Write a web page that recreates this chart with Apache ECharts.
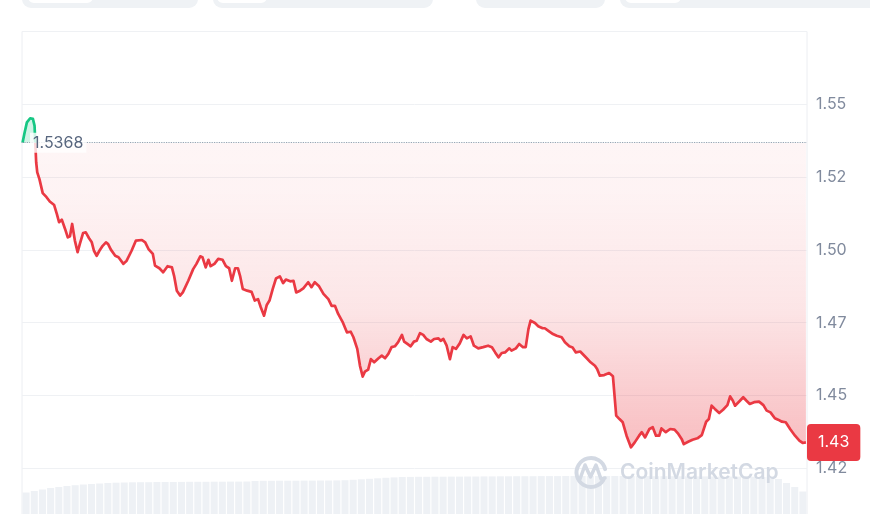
<!DOCTYPE html>
<html>
<head>
<meta charset="utf-8">
<script src="https://cdn.jsdelivr.net/npm/echarts@6/dist/echarts.min.js"></script>
<style>
  html, body { margin: 0; padding: 0; background: #ffffff; }
  #chart { width: 870px; height: 514px; }
</style>
</head>
<body>
<div id="chart"></div>
<script>
// ---- Data ----
const openPrice = 1.5368;
// minutes since start of the 24h window
const times = [1,5,9,15,20,23,26,28,32,38,45,51,59,64,68,73,79,84,88,92,97,102,106,112,117,123,128,132,137,142,148,154,158,163,171,177,186,192,201,209,220,226,232,240,244,252,259,267,275,279,284,290,295,305,314,320,327,331,337,342,346,353,360,368,374,380,385,391,396,400,405,413,421,427,433,438,444,449,454,460,466,473,479,484,492,498,503,510,516,525,531,537,545,553,562,568,574,580,588,596,603,608,615,620,625,629,635,640,646,654,660,666,672,678,684,690,697,701,707,713,719,724,730,736,742,750,756,764,768,773,779,785,790,796,803,810,816,823,829,837,846,855,862,868,874,880,886,894,898,906,912,919,924,929,933,941,947,955,959,965,974,981,990,996,1004,1010,1016,1024,1036,1043,1051,1055,1060,1068,1077,1084,1090,1096,1102,1109,1117,1124,1132,1137,1143,1151,1157,1163,1169,1173,1181,1189,1197,1204,1210,1214,1222,1230,1239,1247,1255,1260,1265,1271,1279,1286,1294,1299,1304,1308,1317,1323,1329,1335,1343,1352,1360,1366,1373,1381,1387,1394,1401,1409,1418,1426,1432,1438];
const prices = [1.5368,1.5405,1.5438,1.5452,1.5450,1.5427,1.5301,1.5266,1.5243,1.5195,1.5181,1.5166,1.5154,1.5123,1.5095,1.5104,1.5072,1.5043,1.5047,1.5089,1.5032,1.4992,1.5020,1.5058,1.5060,1.5040,1.5026,1.4997,1.4980,1.4997,1.5014,1.5026,1.5020,1.5001,1.4980,1.4975,1.4952,1.4963,1.4997,1.5032,1.5034,1.5026,1.5003,1.4986,1.4946,1.4937,1.4923,1.4944,1.4940,1.4911,1.4860,1.4843,1.4854,1.4894,1.4934,1.4952,1.4978,1.4975,1.4940,1.4966,1.4944,1.4952,1.4969,1.4966,1.4944,1.4937,1.4894,1.4937,1.4937,1.4911,1.4866,1.4860,1.4856,1.4826,1.4831,1.4803,1.4774,1.4811,1.4826,1.4866,1.4902,1.4909,1.4886,1.4898,1.4892,1.4894,1.4854,1.4860,1.4868,1.4889,1.4872,1.4889,1.4875,1.4849,1.4831,1.4808,1.4808,1.4780,1.4753,1.4717,1.4719,1.4700,1.4660,1.4602,1.4565,1.4582,1.4589,1.4625,1.4614,1.4628,1.4637,1.4628,1.4643,1.4666,1.4669,1.4683,1.4708,1.4685,1.4677,1.4669,1.4685,1.4688,1.4714,1.4708,1.4694,1.4685,1.4694,1.4696,1.4688,1.4694,1.4671,1.4625,1.4666,1.4660,1.4679,1.4708,1.4696,1.4703,1.4671,1.4662,1.4666,1.4671,1.4666,1.4648,1.4631,1.4646,1.4648,1.4662,1.4654,1.4662,1.4677,1.4666,1.4666,1.4728,1.4757,1.4749,1.4738,1.4731,1.4731,1.4723,1.4711,1.4705,1.4700,1.4683,1.4669,1.4665,1.4648,1.4651,1.4628,1.4614,1.4602,1.4591,1.4568,1.4570,1.4577,1.4566,1.4431,1.4419,1.4408,1.4362,1.4322,1.4339,1.4362,1.4374,1.4356,1.4385,1.4391,1.4362,1.4362,1.4387,1.4374,1.4385,1.4383,1.4368,1.4351,1.4333,1.4341,1.4348,1.4353,1.4364,1.4410,1.4419,1.4465,1.4454,1.4440,1.4451,1.4467,1.4497,1.4482,1.4465,1.4482,1.4494,1.4482,1.4471,1.4477,1.4479,1.4467,1.4448,1.4442,1.4422,1.4417,1.4410,1.4408,1.4385,1.4362,1.4345,1.4337,1.4339];
// volume per 15-minute bucket (millions)
const volumes = [2.15,2.3,2.45,2.6,2.7,2.8,2.88,2.95,3.0,3.05,3.1,3.13,3.15,3.17,3.18,3.18,3.2,3.2,3.2,3.21,3.22,3.22,3.22,3.23,3.23,3.24,3.24,3.25,3.3,3.32,3.32,3.33,3.33,3.33,3.34,3.34,3.35,3.35,3.36,3.38,3.42,3.47,3.52,3.57,3.62,3.66,3.7,3.71,3.72,3.72,3.73,3.73,3.74,3.74,3.75,3.75,3.76,3.76,3.77,3.77,3.78,3.78,3.78,3.79,3.79,3.79,3.8,3.8,3.8,3.8,3.8,3.8,3.8,3.8,3.79,3.79,3.79,3.78,3.78,3.78,3.77,3.77,3.76,3.76,3.75,3.75,3.74,3.74,3.73,3.72,3.71,3.7,3.5,3.1,2.7,2.25];
const yTickValues = [1.425, 1.45, 1.475, 1.5, 1.525, 1.55];
const yTickLabels = ['1.42', '1.45', '1.47', '1.50', '1.52', '1.55'];

// ---- Build ----
const n = Math.min(times.length, prices.length);
const priceData = [];
for (let i = 0; i < n; i++) priceData.push([times[i], prices[i]]);
const lastPrice = prices[n - 1];
const volumeCats = volumes.map((_, i) => String(i));

const chart = echarts.init(document.getElementById('chart'), null, { renderer: 'canvas' });
const RED = '#ea3943', GREEN = '#16c784';

chart.setOption({
  animation: false,
  textStyle: { fontFamily: 'Inter, "Noto Sans", sans-serif' },
  grid: [
    { left: 22, right: 63, top: 31.5, height: 509.6, show: true, borderColor: '#eceef2', borderWidth: 1, backgroundColor: 'transparent', outerBoundsMode: 'none', containLabel: false },
    { left: 22, right: 63, top: 400, height: 114, outerBoundsMode: 'none', containLabel: false }
  ],
  xAxis: [
    { type: 'value', gridIndex: 0, min: 0, max: 1440, show: false },
    { type: 'category', gridIndex: 1, data: volumeCats, show: false, boundaryGap: true }
  ],
  yAxis: [
    {
      type: 'value', gridIndex: 0, position: 'right', min: 1.40, max: 1.575, interval: 0.025,
      axisLine: { show: false }, axisTick: { show: false },
      splitLine: { show: true, lineStyle: { color: '#eff1f4', width: 1 } },
      axisLabel: {
        margin: 9, color: '#808a9d', fontSize: 16,
        formatter: function (v) {
          const i = yTickValues.findIndex(t => Math.abs(t - v) < 1e-6);
          return i < 0 ? '' : yTickLabels[i];
        }
      }
    },
    { type: 'value', gridIndex: 1, min: 0, max: 11.4, show: false }
  ],
  visualMap: [
    {
      type: 'continuous', show: false, seriesIndex: 1, dimension: 1,
      min: 1.40, max: 1.60, range: [1.40, openPrice],
      inRange: { color: ['rgba(234,57,67,0.40)', 'rgba(234,57,67,0.30)', 'rgba(234,57,67,0.13)', 'rgba(234,57,67,0.06)', 'rgba(234,57,67,0.03)', 'rgba(234,57,67,0.03)'] },
      outOfRange: { color: 'rgba(22,199,132,0.2)' }
    },
    {
      type: 'continuous', show: false, seriesIndex: 2, dimension: 1,
      min: 1.40, max: 1.60, range: [1.40, openPrice],
      inRange: { color: [RED, RED] },
      outOfRange: { color: GREEN }
    }
  ],
  graphic: [
    { type: 'rect', z: 0, silent: true, shape: { x: 22, y: -10, width: 176, height: 18, r: 9 }, style: { fill: '#eff2f5' } },
    { type: 'rect', z: 0, silent: true, shape: { x: 28, y: -10, width: 65, height: 13, r: 6 }, style: { fill: '#ffffff' } },
    { type: 'rect', z: 0, silent: true, shape: { x: 213, y: -10, width: 220, height: 18, r: 9 }, style: { fill: '#eff2f5' } },
    { type: 'rect', z: 0, silent: true, shape: { x: 217, y: -10, width: 50, height: 13, r: 6 }, style: { fill: '#ffffff' } },
    { type: 'rect', z: 0, silent: true, shape: { x: 476, y: -10, width: 129, height: 18, r: 9 }, style: { fill: '#eff2f5' } },
    { type: 'rect', z: 0, silent: true, shape: { x: 620, y: -10, width: 270, height: 18, r: 9 }, style: { fill: '#eff2f5' } },
    { type: 'rect', z: 0, silent: true, shape: { x: 625, y: -10, width: 56, height: 13, r: 6 }, style: { fill: '#ffffff' } },
    { type: 'arc', z: 1, silent: true, shape: { cx: 591, cy: 472.5, r: 14.5, startAngle: 0.55, endAngle: 0.55 + 5.5, clockwise: true }, style: { stroke: '#d3d9e3', lineWidth: 4, fill: 'none', lineCap: 'round' } },
    { type: 'polyline', z: 1, silent: true, shape: { points: [[580, 479], [585, 465], [590.5, 477], [596, 465], [601, 479], [605, 478]] }, style: { stroke: '#d3d9e3', lineWidth: 3.5, fill: 'none', lineJoin: 'round', lineCap: 'round' } },
    { type: 'text', z: 1, silent: true, style: { x: 620, y: 473, text: 'CoinMarketCap', fill: '#d3d9e3', fontSize: 21, fontWeight: 600, fontFamily: 'Inter, sans-serif', verticalAlign: 'middle', align: 'left' } }
  ],
  series: [
    {
      name: 'Volume', type: 'bar', xAxisIndex: 1, yAxisIndex: 1, data: volumes,
      barCategoryGap: '14%', itemStyle: { color: '#eef1f5' }, silent: true, z: 0
    },
    {
      name: 'Area', type: 'line', xAxisIndex: 0, yAxisIndex: 0, data: priceData,
      showSymbol: false, silent: true, z: 1,
      lineStyle: { width: 0, opacity: 0 },
      areaStyle: { origin: openPrice, opacity: 1 }
    },
    {
      name: 'Price', type: 'line', xAxisIndex: 0, yAxisIndex: 0, data: priceData,
      showSymbol: false, silent: true, z: 3,
      lineStyle: { width: 2.7, join: 'round' },
      markLine: {
        silent: true, symbol: ['none', 'none'], animation: false, precision: 4,
        data: [
          {
            yAxis: openPrice,
            lineStyle: { type: 'dotted', color: '#9aa3b5', width: 1.2 },
            label: {
              show: true, position: 'insideStart', distance: 8,
              formatter: String(openPrice), color: '#58667e', fontSize: 16,
              backgroundColor: 'rgba(255,255,255,0.8)', padding: [2, 3, 2, 3]
            }
          },
          {
            yAxis: lastPrice,
            lineStyle: { color: 'rgba(0,0,0,0)', width: 1, type: 'solid' },
            label: {
              show: true, position: 'end', distance: 0,
              formatter: lastPrice.toFixed(2), color: '#ffffff', fontSize: 16,
              backgroundColor: RED, padding: [11, 11, 10, 11], borderRadius: 4
            }
          }
        ]
      }
    }
  ]
});
</script>
</body>
</html>
